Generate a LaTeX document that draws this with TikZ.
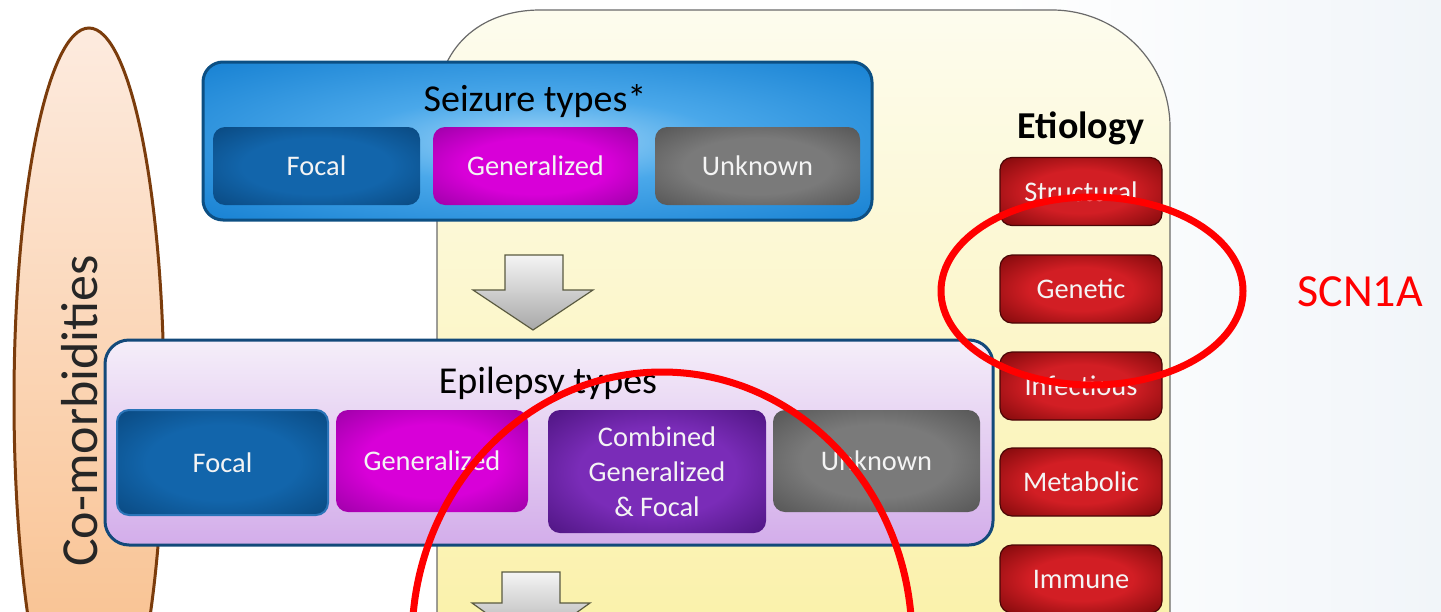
\documentclass[tikz,border=0pt]{standalone}
\usepackage{fontspec}
\setmainfont{Carlito}
\usetikzlibrary{shapes.geometric}
\definecolor{ylTop}{HTML}{FDFCEE}
\definecolor{ylBot}{HTML}{FAF0A2}
\definecolor{ylline}{HTML}{6A6A6A}
\definecolor{bgblue}{HTML}{F1F5F9}
\definecolor{comTop}{HTML}{FDEBDF}
\definecolor{comBot}{HTML}{F8BA82}
\definecolor{comline}{HTML}{7B3C0C}
\definecolor{seizline}{HTML}{0C4F83}
\definecolor{epiline}{HTML}{13497A}
\definecolor{epiTop}{HTML}{F5EEF9}
\definecolor{epiBot}{HTML}{D3ADEA}
\definecolor{focalEdge}{HTML}{2A74B8}
\definecolor{redEdge}{HTML}{4A0606}
\definecolor{arrowTop}{HTML}{F4F4F4}
\definecolor{arrowBot}{HTML}{A8A8A8}
\definecolor{arrowline}{HTML}{5A5A40}
\definecolor{boxtext}{HTML}{F4F4F4}
\definecolor{sA}{HTML}{A6D8F8}
\definecolor{sM}{HTML}{4AA8EA}
\definecolor{sB}{HTML}{1B84D4}
\definecolor{fA}{HTML}{1265AB}
\definecolor{fB}{HTML}{0A4A82}
\definecolor{gA}{HTML}{D800D8}
\definecolor{gB}{HTML}{A000AA}
\definecolor{uA}{HTML}{7A7A7A}
\definecolor{uB}{HTML}{575757}
\definecolor{cA}{HTML}{7A2CB8}
\definecolor{cB}{HTML}{501684}
\definecolor{rA}{HTML}{D21E24}
\definecolor{rB}{HTML}{820A0C}
\pgfdeclareradialshading{glowSeiz}{\pgfpoint{0bp}{0bp}}{color(0bp)=(sA); color(14bp)=(sM); color(34bp)=(sB); color(50bp)=(sB)}
\pgfdeclareradialshading{glowFocal}{\pgfpoint{0bp}{0bp}}{color(0bp)=(fA); color(18bp)=(fA); color(35bp)=(fB); color(50bp)=(fB)}
\pgfdeclareradialshading{glowGen}{\pgfpoint{0bp}{0bp}}{color(0bp)=(gA); color(18bp)=(gA); color(35bp)=(gB); color(50bp)=(gB)}
\pgfdeclareradialshading{glowUnk}{\pgfpoint{0bp}{0bp}}{color(0bp)=(uA); color(18bp)=(uA); color(35bp)=(uB); color(50bp)=(uB)}
\pgfdeclareradialshading{glowComb}{\pgfpoint{0bp}{0bp}}{color(0bp)=(cA); color(18bp)=(cA); color(35bp)=(cB); color(50bp)=(cB)}
\pgfdeclareradialshading{glowRed}{\pgfpoint{0bp}{0bp}}{color(0bp)=(rA); color(16bp)=(rA); color(35bp)=(rB); color(50bp)=(rB)}
\begin{document}
\begin{tikzpicture}[x=0.5pt,y=-0.5pt,
  box/.style={rounded corners=6pt, inner sep=0pt, align=center, text=boxtext,
    font=\fontsize{14.2}{17.5}\selectfont},
  titletext/.style={font=\fontsize{19}{22}\selectfont, text=black},
  redring/.style={draw=red, line width=3.5pt, ellipse, inner sep=0pt},
  blockarrow/.style={draw=arrowline, line width=0.6pt, top color=arrowTop, bottom color=arrowBot},
  etio/.style={box, shading=glowRed, draw=redEdge, line width=0.6pt, minimum width=81pt, minimum height=34pt}
]
\useasboundingbox (0,0) rectangle (1441,611);
\clip (0,0) rectangle (1441,611);
\fill[left color=white, right color=bgblue] (1000,0) rectangle (1441,611);

% yellow region
\draw[draw=ylline, line width=0.6pt, top color=ylTop, bottom color=ylBot]
  (437,700) -- (437,108) .. controls (437,48) and (480,10) .. (540,10) -- (1052,10)
  .. controls (1117,10) and (1170,62) .. (1170,127) -- (1170,700) -- cycle;

% co-morbidities
\node[ellipse, draw=comline, line width=1.5pt, minimum width=75pt, minimum height=372pt,
  inner sep=0pt, top color=comTop, bottom color=comBot] (comorb) at (89,400) {};
\node[rotate=90, anchor=base, font=\fontsize{26}{30}\selectfont, text=black!85] (comlabel) at (97,411) {Co-morbidities};

% seizure types
\node[rounded corners=10pt, draw=seizline, line width=1.5pt, minimum width=334.5pt,
  minimum height=79pt, shading=glowSeiz] (seizure) at (537.5,141) {};
\node[titletext] (seiztitle) at (535,101) {Seizure types*};
\node[box, shading=glowFocal, minimum width=103.5pt, minimum height=39pt] (sfocal) at (316.5,166) {Focal};
\node[box, shading=glowGen, minimum width=102.5pt, minimum height=39pt] (sgen) at (535.5,166) {Generalized};
\node[box, shading=glowUnk, minimum width=102.5pt, minimum height=39pt] (sunk) at (757.5,166) {Unknown};

% arrow 1
\path[blockarrow] (505,255) -- (563,255) -- (563,290) -- (593,290) -- (533,330) -- (473,290) -- (505,290) -- cycle;

% epilepsy types
\node[rounded corners=12pt, draw=epiline, line width=1.5pt, minimum width=444pt,
  minimum height=102.5pt, top color=epiTop, bottom color=epiBot] (epilepsy) at (549,442.5) {};
\node[titletext] (epititle) at (548,383) {Epilepsy types};
\node[box, shading=glowFocal, draw=focalEdge, line width=1pt, minimum width=105.5pt, minimum height=52.5pt] (efocal) at (222.5,462.5) {Focal};
\node[box, shading=glowGen, minimum width=96pt, minimum height=51pt] (egen) at (432,461) {Generalized};
\node[box, shading=glowComb, minimum width=109pt, minimum height=61.5pt] (ecomb) at (657,471.5) {Combined\\Generalized\\\& Focal};
\node[box, shading=glowUnk, minimum width=103.5pt, minimum height=51pt] (eunk) at (876.5,461) {Unknown};

% arrow 2
\path[blockarrow] (502,572) -- (560,572) -- (560,603) -- (590,603) -- (531,645) -- (472,603) -- (502,603) -- cycle;

% etiology
\node[font=\fontsize{19}{22}\selectfont\bfseries, text=black] (etiotitle) at (1081,128) {Etiology};
\node[etio] (struct) at (1081,191.5) {Structural};
\node[etio] (genetic) at (1081,289) {Genetic};
\node[etio] (infect) at (1081,386) {Infectious};
\node[etio] (metab) at (1081,482) {Metabolic};
\node[etio] (immune) at (1081,579) {Immune};

% red annotations
\node[redring, minimum width=151pt, minimum height=94pt] (ringgen) at (1092,291) {};
\node[redring, minimum width=250pt, minimum height=268pt] (ringepi) at (662,640) {};
\node[text=red, font=\fontsize{23}{27}\selectfont] (scn) at (1360,292) {SCN1A};
\end{tikzpicture}
\end{document}
